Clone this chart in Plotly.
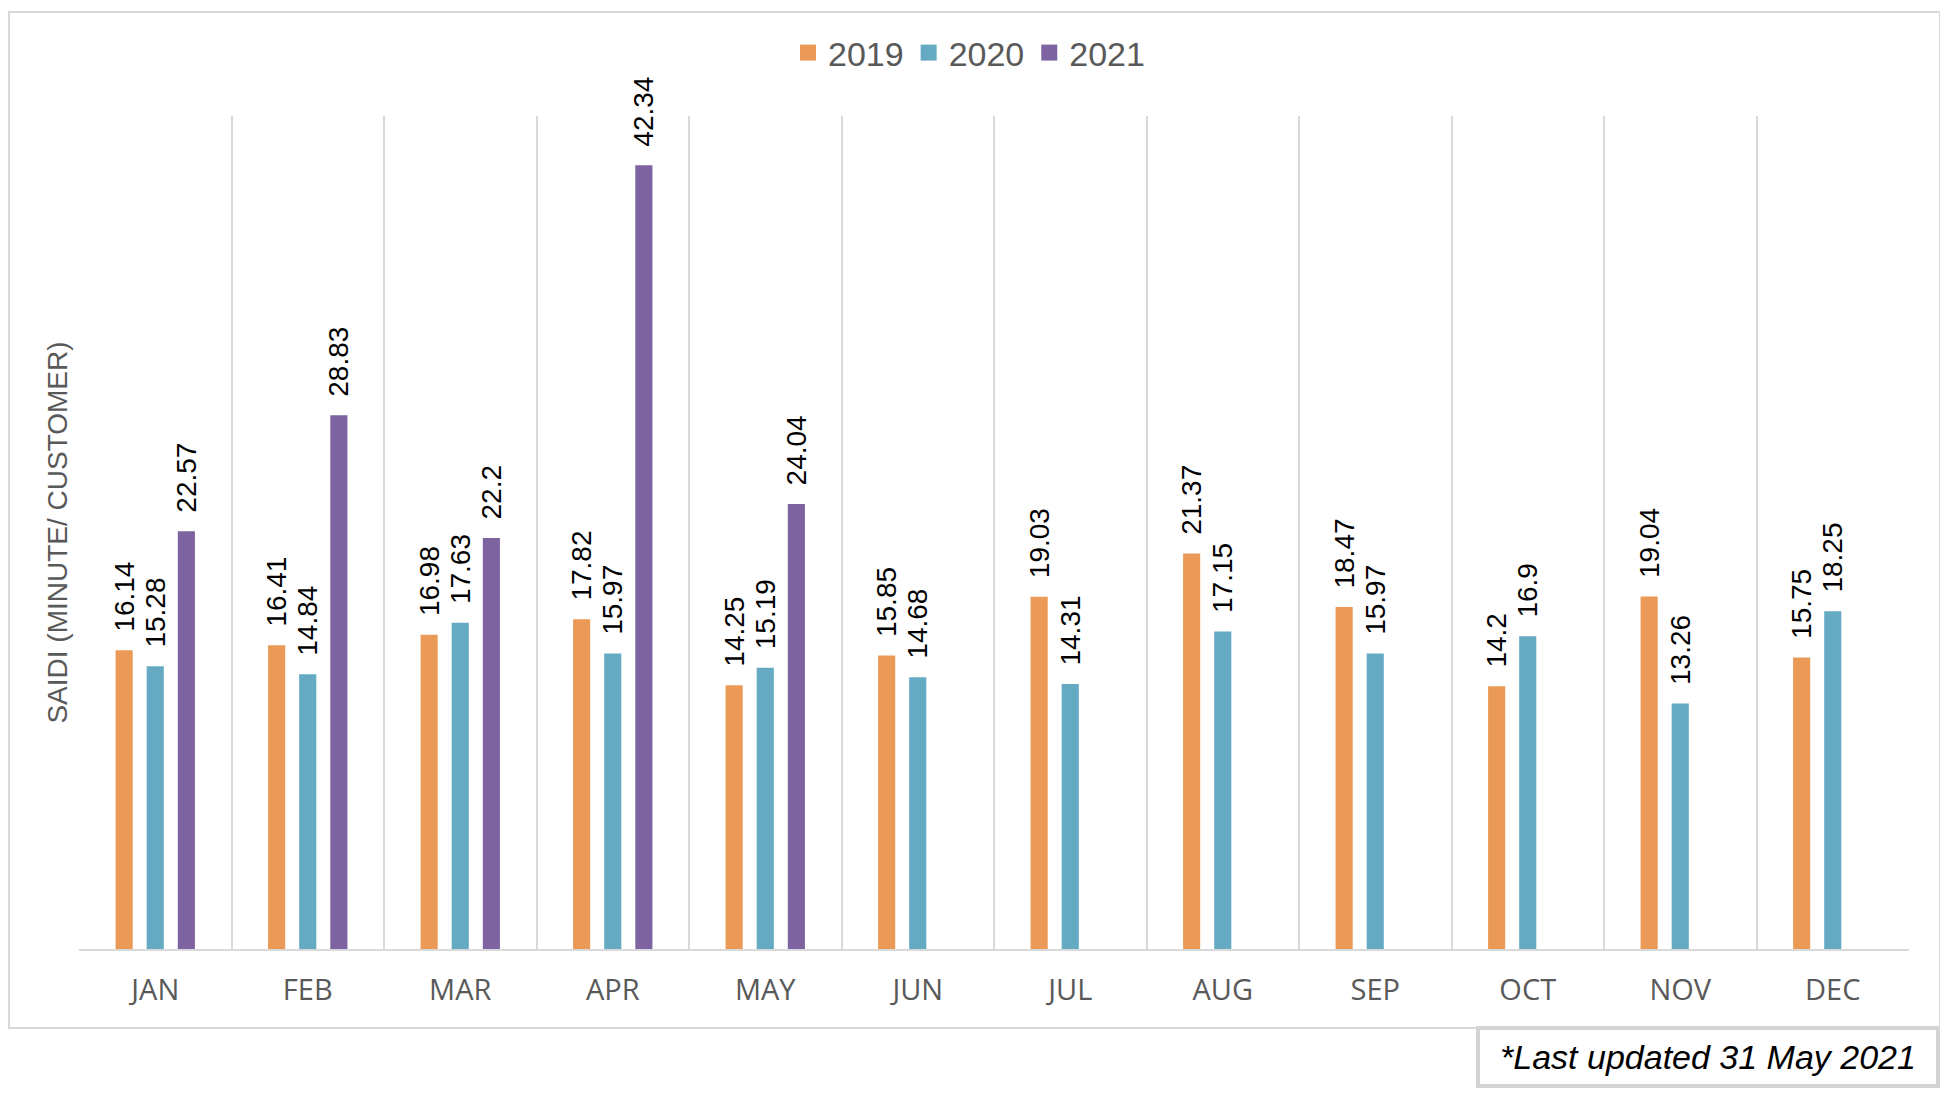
import plotly.graph_objects as go

# monthly SAIDI values
months = ['JAN', 'FEB', 'MAR', 'APR', 'MAY', 'JUN',
          'JUL', 'AUG', 'SEP', 'OCT', 'NOV', 'DEC']
saidi_2019 = [16.14, 16.41, 16.98, 17.82, 14.25, 15.85,
              19.03, 21.37, 18.47, 14.2, 19.04, 15.75]
saidi_2020 = [15.28, 14.84, 17.63, 15.97, 15.19, 14.68,
              14.31, 17.15, 15.97, 16.9, 13.26, 18.25]
saidi_2021 = [22.57, 28.83, 22.2, 42.34, 24.04, None,
              None, None, None, None, None, None]

series = [('2019', saidi_2019, '#EA9A56'),
          ('2020', saidi_2020, '#64AAC3'),
          ('2021', saidi_2021, '#7D64A0')]

# page is drawn with the browser's 8px body margin, so shift everything back
OFF = 8
W, H = 1948, 1096
L, R, T, B = 79, 39, 116, 147
pw, ph = W - L - R, H - T - B


def px(x):
    return (x - L) / pw


def py(y):
    return (H - B - y) / ph


fig = go.Figure()
for name, vals, col in series:
    fig.add_trace(go.Bar(
        x=months, y=vals, name=name,
        marker=dict(color=col, line=dict(width=0)),
        texttemplate='\u00a0\u00a0%{y}',
        textposition='outside',
        textangle=-90,
        constraintext='none',
        cliponaxis=False,
        showlegend=False,
        textfont=dict(family='Liberation Sans, Arial', size=28, color='#000000'),
    ))
# legend entries with bigger square swatches
for name, vals, col in series:
    fig.add_trace(go.Scatter(
        x=[None], y=[None], mode='markers', name=name,
        marker=dict(symbol='square', size=16, color=col),
    ))

fig.update_layout(
    width=W - OFF, height=H - OFF,
    margin=dict(l=L - OFF, r=R, t=T - OFF, b=B),
    plot_bgcolor='white',
    paper_bgcolor='white',
    barmode='group',
    bargap=0.388,
    bargroupgap=0.45,
    font=dict(family='Liberation Sans, Arial', color='#595959'),
    legend=dict(
        orientation='h',
        x=px(788), xanchor='left',
        y=py(53), yanchor='middle',
        font=dict(size=34, color='#595959'),
        itemwidth=30,
        itemsizing='trace',
        traceorder='normal',
    ),
    xaxis=dict(
        type='category',
        tickson='boundaries',
        showgrid=True, gridcolor='#D9D9D9', gridwidth=2,
        showline=True, linecolor='#D9D9D9', linewidth=2,
        ticks='',
        ticklabelstandoff=14,
        tickfont=dict(family='Open Sans', size=29, color='#595959'),
    ),
    yaxis=dict(
        range=[0, 45],
        showgrid=False, zeroline=False, showline=False,
        showticklabels=False, ticks='',
        title=dict(text='SAIDI (MINUTE/ CUSTOMER)', standoff=2,
                   font=dict(family='Liberation Sans, Arial', size=28, color='#595959')),
    ),
    shapes=[dict(
        type='rect', xref='paper', yref='paper',
        x0=px(9), x1=px(1940), y0=py(1028), y1=py(12),
        line=dict(color='#D9D9D9', width=2), layer='below',
    )],
    annotations=[dict(
        text='<i>*Last updated 31 May 2021</i>',
        xref='paper', yref='paper',
        x=px(1708), y=py(1057), xanchor='center', yanchor='middle',
        showarrow=False,
        width=450, height=48,
        borderpad=3, borderwidth=4, bordercolor='#D4D4D4',
        bgcolor='white',
        font=dict(family='Liberation Sans, Arial', size=34, color='#000000'),
    )],
)

fig.write_html('out.html')
